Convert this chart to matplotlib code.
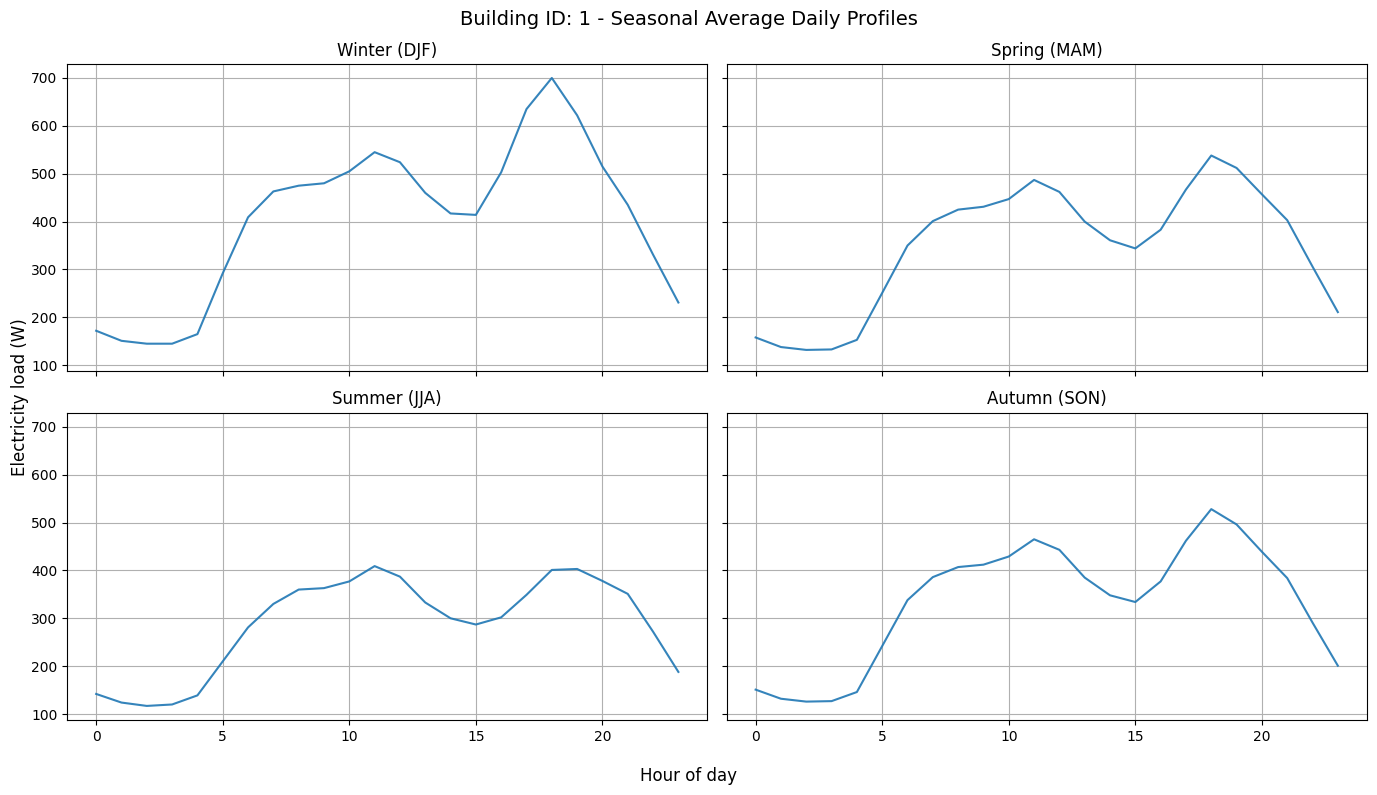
import matplotlib
matplotlib.use("Agg")
import matplotlib.pyplot as plt

hours = list(range(24))

seasons = ["Winter (DJF)", "Spring (MAM)", "Summer (JJA)", "Autumn (SON)"]

winter = [172, 151, 145, 145, 165, 292, 409, 463, 475, 480, 505, 545,
          524, 460, 417, 414, 503, 635, 700, 622, 515, 435, 331, 231]
spring = [158, 138, 132, 133, 153, 251, 350, 401, 425, 431, 447, 487,
          462, 400, 361, 344, 383, 467, 538, 512, 457, 403, 306, 211]
summer = [142, 124, 117, 120, 139, 210, 281, 330, 360, 363, 377, 409,
          387, 333, 300, 287, 302, 349, 401, 403, 378, 351, 272, 188]
autumn = [151, 132, 126, 127, 146, 242, 338, 386, 407, 412, 429, 465,
          443, 385, 348, 334, 377, 462, 528, 496, 439, 384, 291, 201]

profiles = [winter, spring, summer, autumn]

fig, axes = plt.subplots(2, 2, figsize=(13.77, 7.95), sharex=True, sharey=True)

for ax, title, values in zip(axes.flat, seasons, profiles):
    ax.plot(hours, values, color="tab:blue", alpha=0.9)
    ax.set_title(title)
    ax.grid(True)

fig.suptitle("Building ID: 1 - Seasonal Average Daily Profiles", fontsize=14, y=0.988)
fig.supxlabel("Hour of day", y=0.013)
fig.supylabel("Electricity load (W)", x=0.008)
fig.subplots_adjust(left=0.0487, right=0.9927, top=0.9195, bottom=0.0945,
                    wspace=0.0297, hspace=0.136)
fig.savefig("out.png", dpi=100)
